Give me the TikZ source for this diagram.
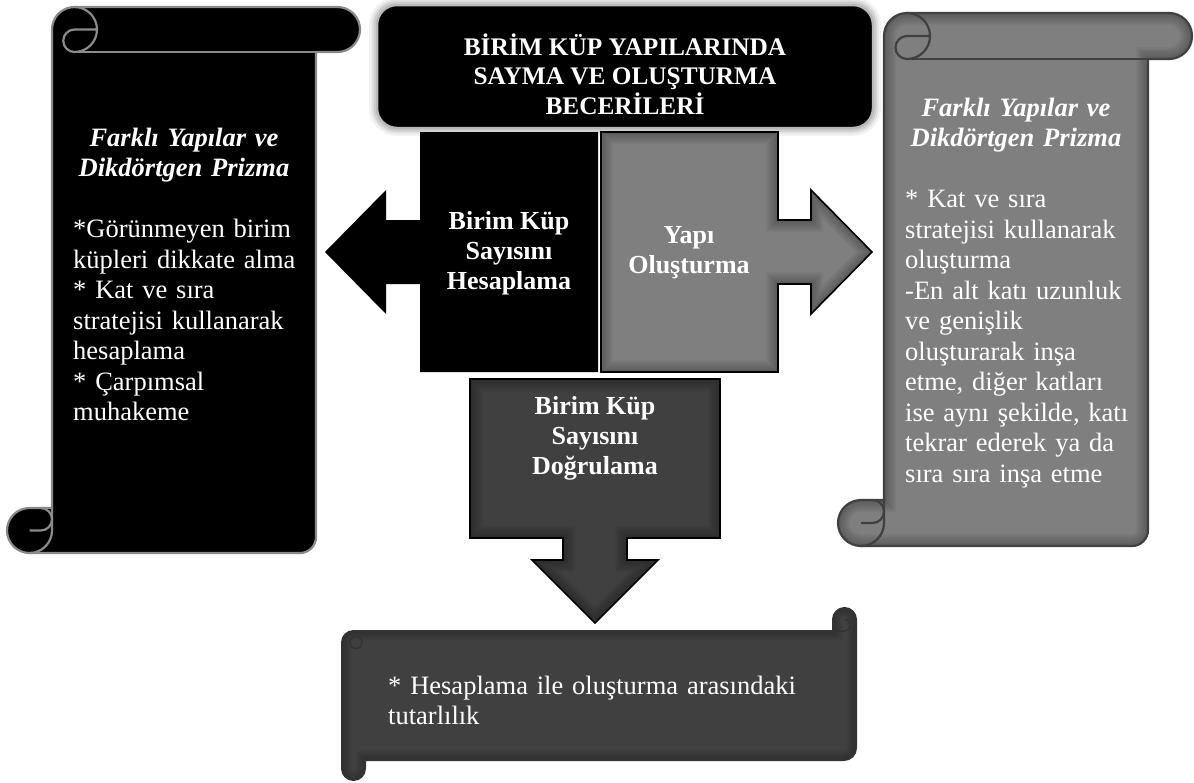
\documentclass[tikz,border=0pt]{standalone}
\usepackage{fontspec}
\setmainfont{Liberation Serif}
\definecolor{midgray}{HTML}{7F7F7F}
\definecolor{deepgray}{HTML}{404040}
\definecolor{rimgray}{HTML}{8A8A8A}

% vertical scroll: #1 left, #2 right of body, #3 right end of roll,
% #4 top, #5 bottom, #6 roll radius, #7 path options
\newcommand\vscrollmain[7]{%
  \pgfmathsetmacro\vsA{-(#4)-(#6)}%
  \pgfmathsetmacro\vsB{-(#4)-2*(#6)}%
  \pgfmathsetmacro\vsC{(#3)-(#6)}%
  \pgfmathsetmacro\vsD{-(#5)+16}%
  \pgfmathsetmacro\vsE{(#1)-(#6)}%
  \pgfmathsetmacro\vsF{-(#5)+2*(#6)}%
  \path[#7] (#1,\vsA) arc[start angle=180,end angle=90,radius=#6]
    -- (\vsC,-#4) arc[start angle=90,end angle=-90,radius=#6]
    -- (#2,\vsB) -- (#2,\vsD) arc[start angle=0,end angle=-90,radius=16]
    -- (\vsE,-#5) arc[start angle=-90,end angle=-270,radius=#6]
    -- (#1,\vsF) -- cycle;}
\newcommand\vscrolldetail[7]{%
  \pgfmathsetmacro\vsA{-(#4)-(#6)}%
  \pgfmathsetmacro\vsB{-(#4)-2*(#6)}%
  \pgfmathsetmacro\vsE{(#1)-(#6)}%
  \pgfmathsetmacro\vsF{-(#5)+2*(#6)}%
  \pgfmathsetmacro\vsG{(#1)+(#6)}%
  \pgfmathsetmacro\vsH{(#1)+2*(#6)}%
  \pgfmathsetmacro\vsI{-(#5)+(#6)}%
  \pgfmathsetmacro\vsJ{(#1)-(#6)/2}%
  \pgfmathsetmacro\vsK{(#6)/2}%
  % front of the upper roll
  \draw[#7] (\vsG,-#4) arc[start angle=90,end angle=-90,radius=#6]
    arc[start angle=-90,end angle=-270,radius=\vsK] -- (\vsH,\vsA);
  \draw[#7] (\vsG,\vsB) -- (#2,\vsB);
  % lower curl
  \draw[#7] (\vsJ,\vsF) arc[start angle=90,end angle=-90,radius=\vsK] -- (\vsE,\vsI);
  \draw[#7] (#1,\vsF) -- (#1,\vsI) arc[start angle=0,end angle=-90,radius=#6];}

% the three arrow callouts
\newcommand\leftcallout[1]{\path[#1] (598,-132) -- (420,-132) -- (420,-220)
  -- (386,-220) -- (386,-190) -- (325,-252) -- (386,-314) -- (386,-284)
  -- (420,-284) -- (420,-372) -- (598,-372) -- cycle;}
\newcommand\rightcallout[1]{\path[#1] (601,-132) -- (778,-132) -- (778,-220)
  -- (811,-220) -- (811,-190) -- (872,-252) -- (811,-314) -- (811,-284)
  -- (778,-284) -- (778,-372) -- (601,-372) -- cycle;}
\newcommand\downcallout[1]{\path[#1] (470,-379) -- (720,-379) -- (720,-538)
  -- (627,-538) -- (627,-560) -- (658,-560) -- (595,-623) -- (532,-560)
  -- (563,-560) -- (563,-538) -- (470,-538) -- cycle;}
% horizontal scroll at the bottom
\newcommand\hscrollmain[1]{\path[#1] (342,-642.5) arc[start angle=180,end angle=90,radius=11.5]
  -- (833,-631) -- (833,-619.5) arc[start angle=180,end angle=0,radius=11.5]
  -- (856,-748) arc[start angle=0,end angle=-90,radius=12]
  -- (365,-760) -- (365,-768.5) arc[start angle=0,end angle=-180,radius=11.5]
  -- cycle;}

\begin{document}
\begin{tikzpicture}[x=1pt,y=1pt,
  body/.style={text=white,inner sep=0pt,align=left,
    font=\fontsize{26.5}{30.5}\selectfont},
  headline/.style={text=white,inner sep=0pt,align=center,
    font=\fontsize{26.5}{30.5}\selectfont\bfseries\itshape},
  boldlabel/.style={text=white,inner sep=0pt,align=center,
    font=\fontsize{26}{30}\selectfont\bfseries},
  innershadow/.style={draw=black,opacity=0.035,line width=#1},
]
\useasboundingbox (0,0) rectangle (1194,-782);

% ---------- left scroll ----------
\vscrollmain{52}{316}{360}{7}{553}{22.5}{fill=black,draw=rimgray,line width=2.2}
\vscrolldetail{52}{316}{360}{7}{553}{22.5}{draw=rimgray,line width=2.2}
\node[headline,text width=250,anchor=base] (lhead) at (184,-146)
  {Farklı Yapılar ve\\Dikdörtgen Prizma};
\node[body,text width=240,anchor=base west] (lbody) at (73,-237.5)
  {*Görünmeyen birim\\küpleri dikkate alma\\{}* Kat ve sıra\\stratejisi kullanarak\\hesaplama\\{}* Çarpımsal\\muhakeme};

% ---------- right scroll ----------
\vscrollmain{884}{1148}{1192}{13}{546}{23}{fill=midgray}
\begin{scope}
  \vscrollmain{884}{1148}{1192}{13}{546}{23}{clip}
  \foreach \w in {3,6,...,24}{\vscrollmain{884}{1148}{1192}{13}{546}{23}{innershadow=\w}}
\end{scope}
\vscrollmain{884}{1148}{1192}{13}{546}{23}{draw=black!75,line width=2.2}
\vscrolldetail{884}{1148}{1192}{13}{546}{23}{draw=black!75,line width=2.2}
\node[headline,text width=250,anchor=base] (rhead) at (1016,-116)
  {Farklı Yapılar ve\\Dikdörtgen Prizma};
\node[body,text width=240,anchor=base west] (rbody) at (905,-207.5)
  {* Kat ve sıra\\stratejisi kullanarak\\oluşturma\\-En alt katı uzunluk\\ve genişlik\\oluşturarak inşa\\etme, diğer katları\\ise aynı şekilde, katı\\tekrar ederek ya da\\sıra sıra inşa etme};

% ---------- title ----------
\foreach \w/\o in {16/0.05,11/0.07,7/0.09}{
  \draw[black,opacity=\o,line width=\w,rounded corners=20] (377,-5) rectangle (873,-128);}
\draw[fill=black,draw=gray!55,line width=2.5,rounded corners=20] (377,-5) rectangle (873,-128);
\node[boldlabel,font=\fontsize{25.3}{29.5}\selectfont\bfseries] (title) at (625,-74)
  {BİRİM KÜP YAPILARINDA\\SAYMA VE OLUŞTURMA\\BECERİLERİ};

% ---------- arrow callouts ----------
\leftcallout{fill=black}
\node[boldlabel] (count) at (509,-253) {Birim Küp\\Sayısını\\Hesaplama};

\rightcallout{fill=midgray}
\begin{scope}
  \rightcallout{clip}
  \foreach \w in {3,6,...,24}{\rightcallout{innershadow=\w}}
\end{scope}
\rightcallout{draw=black,line width=1.6}
\node[boldlabel] (build) at (689,-253) {Yapı\\Oluşturma};

\downcallout{fill=deepgray}
\begin{scope}
  \downcallout{clip}
  \foreach \w in {3,6,...,24}{\downcallout{innershadow=\w}}
\end{scope}
\downcallout{draw=black,line width=1.6}
\node[boldlabel] (verify) at (595,-438) {Birim Küp\\Sayısını\\Doğrulama};

% ---------- bottom scroll ----------
\hscrollmain{fill=deepgray}
\begin{scope}
  \hscrollmain{clip}
  \foreach \w in {3,6,...,18}{\hscrollmain{innershadow=\w}}
\end{scope}
\hscrollmain{draw=black!80,line width=2}
\draw[black!80,line width=1.5] (356,-642.5) circle[radius=6];
\draw[black!80,line width=1.5] (833,-631) -- (844.5,-631)
  arc[start angle=-90,end angle=90,radius=5.75];
\node[body,text width=460,anchor=base west] (check) at (388,-694)
  {* Hesaplama ile oluşturma arasındaki\\tutarlılık};
\end{tikzpicture}
\end{document}
